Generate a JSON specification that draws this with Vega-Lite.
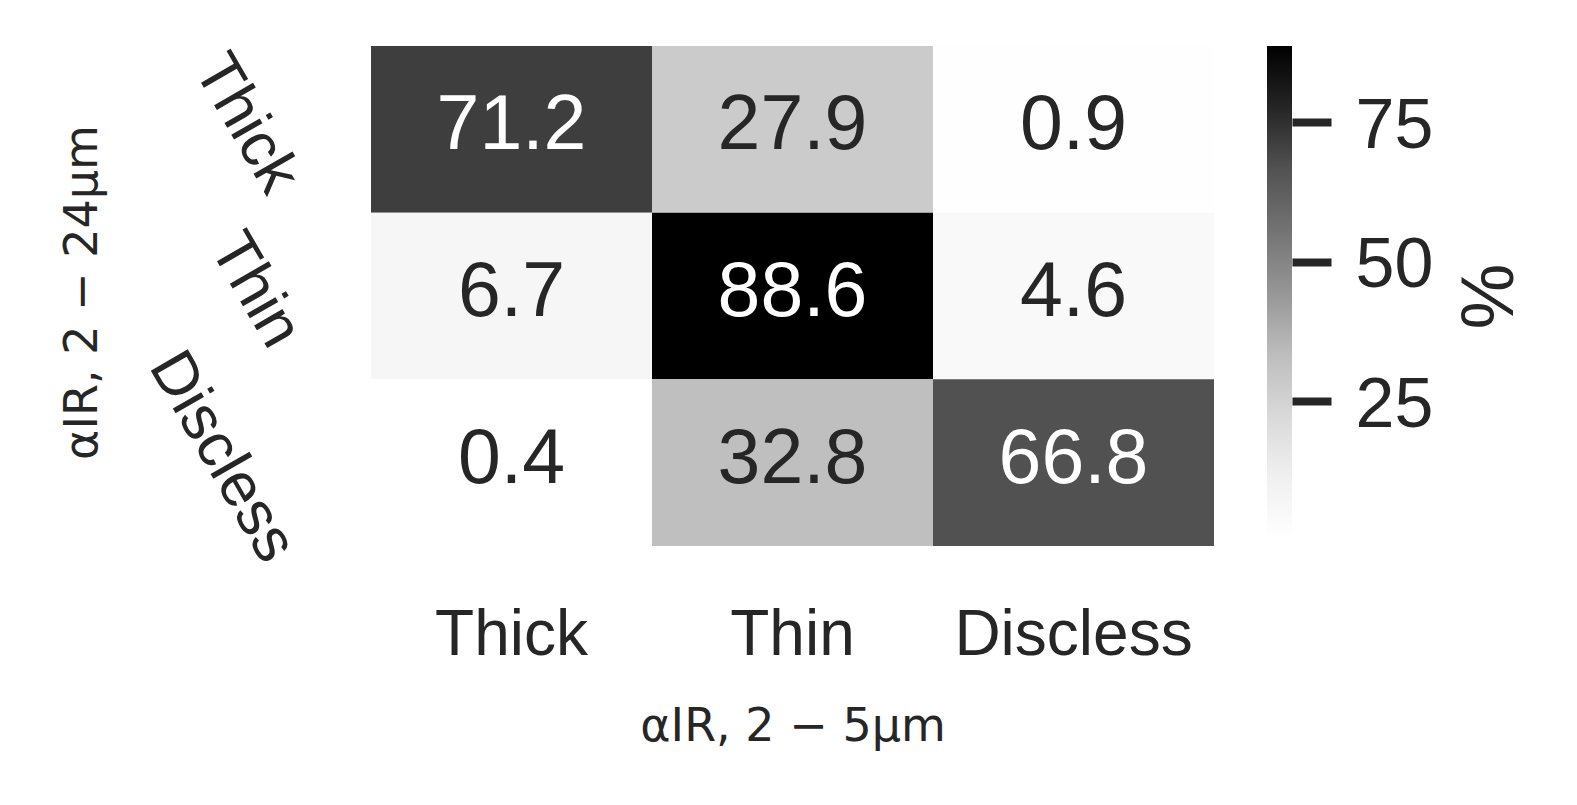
{
  "$schema": "https://vega.github.io/schema/vega-lite/v6.json",
  "background": "white",
  "padding": {"left": 59, "top": 43, "right": 0, "bottom": 40},
  "config": {
    "view": {"stroke": null},
    "axis": {"titleFontWeight": "normal", "labelColor": "#262626", "titleColor": "#262626", "grid": false, "domain": false, "labelLimit": 0, "titleLimit": 0}
  },
  "spacing": 53,
  "bounds": "flush",
  "hconcat": [
    {
      "width": 843,
      "height": 500,
      "data": {"values": [
        {"a25": "Thick", "a224": "Thick", "pct": 71.2},
        {"a25": "Thin", "a224": "Thick", "pct": 27.9},
        {"a25": "Discless", "a224": "Thick", "pct": 0.9},
        {"a25": "Thick", "a224": "Thin", "pct": 6.7},
        {"a25": "Thin", "a224": "Thin", "pct": 88.6},
        {"a25": "Discless", "a224": "Thin", "pct": 4.6},
        {"a25": "Thick", "a224": "Discless", "pct": 0.4},
        {"a25": "Thin", "a224": "Discless", "pct": 32.8},
        {"a25": "Discless", "a224": "Discless", "pct": 66.8}
      ]},
      "encoding": {
        "x": {"field": "a25", "type": "nominal", "sort": ["Thick", "Thin", "Discless"],
          "scale": {"paddingInner": 0, "paddingOuter": 0},
          "axis": {"title": "αIR, 2 − 5μm", "labelAngle": 0, "labelFont": "Liberation Sans", "labelFontSize": 64,
            "labelBaseline": "top", "ticks": false, "tickSize": 0, "labelPadding": 57,
            "titleFont": "DejaVu Sans", "titleFontSize": 46, "titleBaseline": "alphabetic", "titleY": 194}},
        "y": {"field": "a224", "type": "nominal", "sort": ["Thick", "Thin", "Discless"],
          "scale": {"paddingInner": 0, "paddingOuter": 0},
          "axis": {"title": "αIR, 2 − 24μm", "labelAngle": 60, "labelFont": "Liberation Sans", "labelFontSize": 62,
            "labelAlign": "center", "labelBaseline": "middle", "ticks": false, "tickSize": 0,
            "labelPadding": {"condition": [{"test": "datum.value == 'Discless'", "value": 149}, {"test": "datum.value == 'Thin'", "value": 116}], "value": 125},
            "labelOffset": -6,
            "titleFont": "DejaVu Sans", "titleFontSize": 46, "titleAngle": -90, "titleBaseline": "alphabetic", "titleX": -275, "titleY": 246, "titleAlign": "center"}}
      },
      "layer": [
        {
          "mark": {"type": "rect"},
          "encoding": {
            "color": {"field": "pct", "type": "quantitative",
              "scale": {"domain": [0.4, 11.425, 22.45, 33.475, 44.5, 55.525, 66.55, 77.575, 88.6],
                "range": ["#ffffff", "#f0f0f0", "#d9d9d9", "#bdbdbd", "#969696", "#737373", "#525252", "#252525", "#000000"]},
              "legend": null}
          }
        },
        {
          "mark": {"type": "text", "font": "Liberation Sans", "fontSize": 77, "baseline": "middle", "dy": -3},
          "encoding": {
            "text": {"field": "pct", "type": "quantitative", "format": ".1f"},
            "color": {"condition": {"test": "datum.pct > 50", "value": "#ffffff"}, "value": "#262626"}
          }
        }
      ]
    },
    {
      "width": 25,
      "height": 493,
      "data": {"values": [{"lo": 0.4, "hi": 88.6}]},
      "mark": {"type": "rect", "color": {"gradient": "linear", "x1": 0, "x2": 0, "y1": 1, "y2": 0,
        "stops": [
          {"offset": 0, "color": "#ffffff"}, {"offset": 0.125, "color": "#f0f0f0"}, {"offset": 0.25, "color": "#d9d9d9"},
          {"offset": 0.375, "color": "#bdbdbd"}, {"offset": 0.5, "color": "#969696"}, {"offset": 0.625, "color": "#737373"},
          {"offset": 0.75, "color": "#525252"}, {"offset": 0.875, "color": "#252525"}, {"offset": 1, "color": "#000000"}]}},
      "encoding": {
        "y": {"field": "lo", "type": "quantitative", "scale": {"domain": [0.4, 88.6], "nice": false, "zero": false},
          "axis": {"orient": "right", "values": [25, 50, 75], "tickSize": 39, "tickWidth": 8, "tickColor": "#262626",
            "labelFont": "Liberation Sans", "labelFontSize": 70, "labelPadding": 24, "labelOffset": 4,
            "title": "%", "titleFont": "Liberation Sans", "titleFontSize": 74, "titleAngle": -90,
            "titleBaseline": "middle", "titleAlign": "center", "titleX": 198, "titleY": 250}},
        "y2": {"field": "hi"}
      }
    }
  ]
}
